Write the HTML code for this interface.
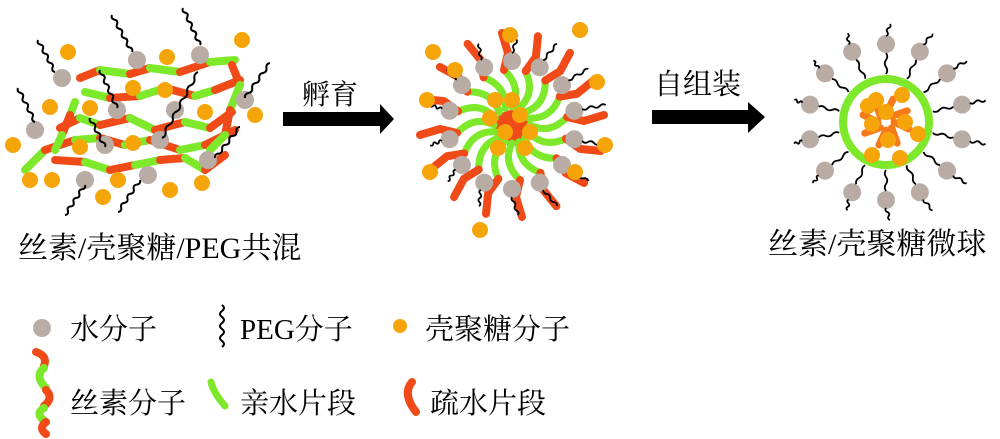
<!DOCTYPE html>
<html><head><meta charset="utf-8"><style>
html,body{margin:0;padding:0;background:#fff;}
svg{display:block;}
text{font-family:"Liberation Serif","Noto Serif CJK SC","Noto Sans CJK SC",serif;fill:#000;}
</style></head><body>
<svg id="s" width="1000" height="439" viewBox="0 0 1000 439" xmlns="http://www.w3.org/2000/svg">
<g id="g"></g>
<rect x="283" y="112" width="98" height="14" fill="#000"/>
<polygon points="380,104 394,119 380,134" fill="#000"/>
<rect x="652" y="110" width="98" height="14" fill="#000"/>
<polygon points="748,102 765,117 748,133" fill="#000"/>
<text x="302" y="104" font-size="28">孵育</text>
<text x="654" y="94" font-size="29">自组装</text>
<text x="18" y="258" font-size="30">丝素/壳聚糖/PEG共混</text>
<text x="768" y="254" font-size="30">丝素/壳聚糖微球</text>
<circle cx="42" cy="328" r="9" fill="#b8aca4"/>
<text x="70" y="339" font-size="29">水分子</text>
<path d="M222,305 q4,3 0,6 q-4,3 0,6 q4,3 0,6 q-4,3 0,6 q4,3 0,6 q-4,3 0,6 q4,3 0,6" stroke="#000" stroke-width="2" fill="none"/>
<text x="240" y="339" font-size="29">PEG分子</text>
<circle cx="400" cy="326" r="7" fill="#f5a50a"/>
<text x="425" y="339" font-size="29">壳聚糖分子</text>
<path d="M36,352 q12,4 8,14" stroke="#f04a18" stroke-width="8" fill="none" stroke-linecap="round"/>
<path d="M44,368 q-10,8 2,20" stroke="#7ee82a" stroke-width="8" fill="none" stroke-linecap="round"/>
<path d="M46,390 q8,8 -2,16" stroke="#f04a18" stroke-width="8" fill="none" stroke-linecap="round"/>
<path d="M44,408 q-10,6 2,14" stroke="#7ee82a" stroke-width="8" fill="none" stroke-linecap="round"/>
<path d="M46,422 q-8,6 0,12" stroke="#f04a18" stroke-width="8" fill="none" stroke-linecap="round"/>
<text x="70" y="413" font-size="29">丝素分子</text>
<path d="M211,382 q2,10 14,24" stroke="#7ee82a" stroke-width="7" fill="none" stroke-linecap="round"/>
<text x="240" y="413" font-size="29">亲水片段</text>
<path d="M412,382 q-10,12 4,30" stroke="#f04a18" stroke-width="8" fill="none" stroke-linecap="round"/>
<text x="430" y="413" font-size="29">疏水片段</text>
</svg>
<script>
var g=document.getElementById('g'),NS="http://www.w3.org/2000/svg";
function el(t,a){var e=document.createElementNS(NS,t);for(var k in a)e.setAttribute(k,a[k]);g.appendChild(e);return e;}
var GR="#b8aca4",OR="#f5a50a",RD="#f04a18",GN="#7ee82a";
function wave(x1,y1,x2,y2,n,amp,w){var dx=x2-x1,dy=y2-y1,L=Math.hypot(dx,dy),nx=-dy/L,ny=dx/L,d="M"+x1+","+y1;
for(var i=1;i<=n;i++){var t=(i-0.5)/n,s=(i%2?1:-1)*amp;var cx=x1+dx*t+nx*s,cy=y1+dy*t+ny*s;var ex=x1+dx*i/n,ey=y1+dy*i/n;d+=" Q"+cx+","+cy+" "+ex+","+ey;}
el("path",{d:d,stroke:"#000","stroke-width":w||2,fill:"none"});}
function seg(pts,c,w){el("path",{d:"M"+pts.join(" L"),stroke:c,"stroke-width":w||6,fill:"none","stroke-linecap":"round","stroke-linejoin":"round"});}
function curve(x1,y1,cx,cy,x2,y2,c,w){el("path",{d:"M"+x1+","+y1+" Q"+cx+","+cy+" "+x2+","+y2,stroke:c,"stroke-width":w||6,fill:"none","stroke-linecap":"round"});}
var rows=[
[[80,78],[100,70],[130,74],[150,68],[180,72],[210,62],[235,60]],
[[85,92],[110,98],[140,96],[165,88],[195,96],[215,90],[240,80]],
[[60,128],[80,118],[100,125],[130,118],[155,130],[185,122],[210,128],[232,112]],
[[25,170],[45,150],[75,140],[100,138],[125,145],[150,140],[180,150],[205,145],[235,130]],
[[55,160],[85,162],[110,170],[135,165],[160,160],[185,158],[205,170],[225,155]],
[[75,102],[70,115],[62,135],[55,150]],
[[232,65],[240,85],[230,110],[225,135],[210,150]]
];
rows.forEach(function(r,ri){for(var i=0;i<r.length-1;i++){seg([r[i],r[i+1]],(i+ri)%2?GN:RD,8);}});
var lg=[[62,78],[137,60],[200,55],[35,130],[117,110],[175,110],[245,100],[105,145],[160,140],[208,160],[85,180],[148,175]];
lg.forEach(function(p){el("circle",{cx:p[0],cy:p[1],r:9,fill:GR});});
var lo=[[68,52],[167,57],[242,40],[50,107],[90,108],[133,88],[165,90],[205,112],[255,115],[13,145],[80,147],[133,143],[30,180],[52,180],[118,180],[103,197],[170,190],[202,183]];
lo.forEach(function(p){el("circle",{cx:p[0],cy:p[1],r:8,fill:OR});});
wave(38,40,55,72,7,3);wave(112,15,132,52,8,3);wave(183,8,200,45,8,3);wave(18,88,35,122,7,3);
wave(100,70,117,108,8,3);wave(90,118,105,147,6,3);wave(198,72,162,138,10,3);wave(270,63,245,98,7,3);
wave(240,127,215,158,7,3);wave(65,215,85,185,7,3);wave(118,212,140,180,7,3);
var mc=[512,125];
el("circle",{cx:512,cy:128,r:18,fill:RD});
for(var i=0;i<16;i++){var a=i/16*2*Math.PI,c=Math.cos(a),s=Math.sin(a);
 var p1=[mc[0]+c*18,mc[1]+s*18],p2=[mc[0]+c*55+s*8,mc[1]+s*55-c*8],p3=[mc[0]+c*72+s*4,mc[1]+s*72-c*4];
 curve(p1[0],p1[1],mc[0]+c*38-s*10,mc[1]+s*38+c*10,p2[0],p2[1],GN,7);
 var p4=[mc[0]+c*92+s*10,mc[1]+s*92-c*10];
 seg([[p2[0],p2[1]],[p3[0],p3[1]],[p4[0],p4[1]]],RD,8);
}
for(var i=0;i<14;i++){var a=(i+0.5)/14*2*Math.PI;var x=mc[0]+Math.cos(a)*64,y=mc[1]+Math.sin(a)*64;
 el("circle",{cx:x,cy:y,r:9,fill:GR});wave(x+Math.cos(a)*8,y+Math.sin(a)*8,x+Math.cos(a)*26+6,y+Math.sin(a)*26,4,2.5,1.8);}
[[490,118],[505,132],[520,115],[530,132],[512,100],[498,148],[525,148],[495,100]].forEach(function(p){el("circle",{cx:p[0],cy:p[1],r:8,fill:OR});});
[[433,52],[510,35],[580,30],[427,100],[597,82],[605,145],[430,172],[575,172],[480,230],[455,70]].forEach(function(p){el("circle",{cx:p[0],cy:p[1],r:8,fill:OR});});
var rc=[886,122];
el("circle",{cx:886,cy:122,r:43,fill:"none",stroke:GN,"stroke-width":8});
for(var i=0;i<8;i++){var a=i/8*2*Math.PI;seg([[rc[0]+Math.cos(a)*8,rc[1]+Math.sin(a)*8],[rc[0]+Math.cos(a+0.3)*24,rc[1]+Math.sin(a+0.3)*24]],"#f77a1a",7);}
[[876,100],[902,95],[886,112],[905,122],[872,124],[888,140],[872,155],[900,158],[918,134],[868,106]].forEach(function(p){el("circle",{cx:p[0],cy:p[1],r:8,fill:OR});});
for(var i=0;i<14;i++){var a=i/14*2*Math.PI-Math.PI/2;var x=rc[0]+Math.cos(a)*78,y=rc[1]+Math.sin(a)*78;
 el("circle",{cx:x,cy:y,r:9,fill:GR});
 wave(x+Math.cos(a)*8,y+Math.sin(a)*8,x+Math.cos(a)*20+4,y+Math.sin(a)*20,3,2.5,1.8);
 wave(rc[0]+Math.cos(a)*48,rc[1]+Math.sin(a)*48,x-Math.cos(a)*9,y-Math.sin(a)*9,3,2.5,1.8);}
</script>
</body></html>
